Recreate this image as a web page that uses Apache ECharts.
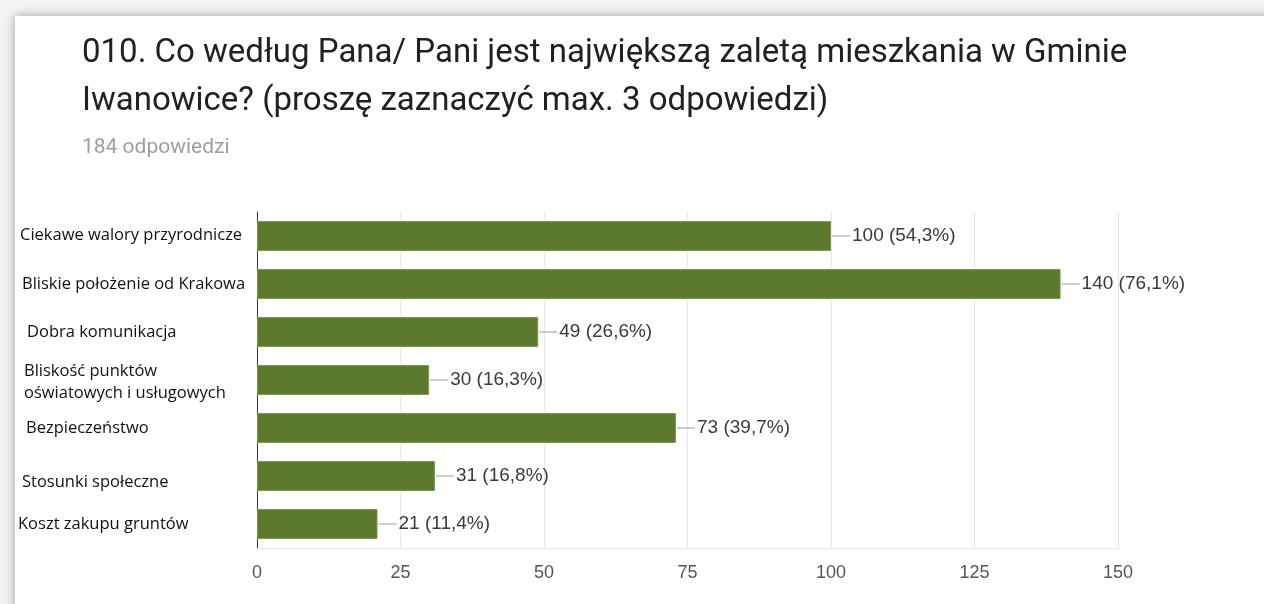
<!DOCTYPE html>
<html>
<head>
<meta charset="utf-8">
<script src="https://cdn.jsdelivr.net/npm/echarts@6/dist/echarts.min.js"></script>
<style>
  html, body { margin: 0; padding: 0; background: #f3f3f3; }
  #card {
    position: absolute; left: 15px; top: 16px; width: 1300px; height: 700px;
    background: #fff; box-shadow: 0 0 10px rgba(0,0,0,0.35);
  }
  #chart { position: absolute; left: 0; top: 0; width: 1264px; height: 604px; }
</style>
</head>
<body>
<div id="card"></div>
<div id="chart"></div>
<script>
// dane z wykresu
const categories = [
  'Ciekawe walory przyrodnicze',
  'Bliskie położenie od Krakowa',
  'Dobra komunikacja',
  'Bliskość punktów\noświatowych i usługowych',
  'Bezpieczeństwo',
  'Stosunki społeczne',
  'Koszt zakupu gruntów'
];
const counts = [100, 140, 49, 30, 73, 31, 21];
const percents = ['54,3%', '76,1%', '26,6%', '16,3%', '39,7%', '16,8%', '11,4%'];
const xTicks = [0, 25, 50, 75, 100, 125, 150];

// drobne przesunięcia etykiet jak na oryginale [pion, poziom]
const labelShift = [[-2, 2], [0, 4], [0, 9], [4, 6], [0, 8], [12, 4], [0, 0]];

const rich = {};
labelShift.forEach((s, i) => {
  rich['c' + i] = {
    width: 239 - s[1],
    align: 'left',
    fontFamily: 'Open Sans',
    fontSize: 16.5,
    lineHeight: 22,
    color: '#111',
    padding: [Math.max(s[0], 0), 0, Math.max(-s[0], 0), 0]
  };
});

const chart = echarts.init(document.getElementById('chart'), null, { renderer: 'canvas' });

const option = {
  backgroundColor: 'transparent',
  animation: false,
  title: [
    {
      text: '010. Co według Pana/ Pani jest największą zaletą mieszkania w Gminie\nIwanowice? (proszę zaznaczyć max. 3 odpowiedzi)',
      left: 82,
      top: 30,
      padding: 0,
      textStyle: {
        fontFamily: 'Roboto',
        fontSize: 33,
        fontWeight: 'normal',
        color: '#212121',
        lineHeight: 48
      }
    },
    {
      text: '184 odpowiedzi',
      left: 82,
      top: 137,
      padding: 0,
      textStyle: {
        fontFamily: 'Roboto',
        fontSize: 21,
        fontWeight: 'normal',
        color: '#9e9e9e'
      }
    }
  ],
  grid: { left: 257, right: 146, top: 212, bottom: 56, outerBoundsMode: 'none', containLabel: false },
  xAxis: {
    type: 'value',
    min: 0,
    max: 150,
    interval: 25,
    axisLine: { show: true, lineStyle: { color: '#e6e6e6', width: 1 } },
    axisTick: { show: false },
    splitLine: { show: true, lineStyle: { color: '#e6e6e6', width: 1 } },
    axisLabel: {
      margin: 16,
      fontFamily: 'Liberation Sans',
      fontSize: 18,
      color: '#555',
      formatter: v => (xTicks.indexOf(v) >= 0 ? String(v) : '')
    }
  },
  yAxis: {
    type: 'category',
    inverse: true,
    data: categories,
    axisLine: { show: true, lineStyle: { color: '#333', width: 1 } },
    axisTick: { show: false },
    axisLabel: {
      margin: 0,
      interval: 0,
      formatter: (v, i) => '{c' + i + '|' + v + '}',
      rich: rich
    }
  },
  series: [{
    type: 'bar',
    data: counts,
    barWidth: 30,
    itemStyle: { color: '#5c7a2d', borderColor: '#7f9a58', borderWidth: 1 },
    label: {
      show: true,
      position: 'right',
      distance: 1,
      formatter: p => '{l| }{t|' + p.value + ' (' + percents[p.dataIndex] + ')}',
      rich: {
        l: { width: 18, height: 1, backgroundColor: '#9a9a9a' },
        t: {
          fontFamily: 'Liberation Sans',
          fontSize: 19,
          color: '#3a3a3a',
          padding: [0, 0, 0, 2]
        }
      }
    }
  }]
};

chart.setOption(option);
</script>
</body>
</html>
